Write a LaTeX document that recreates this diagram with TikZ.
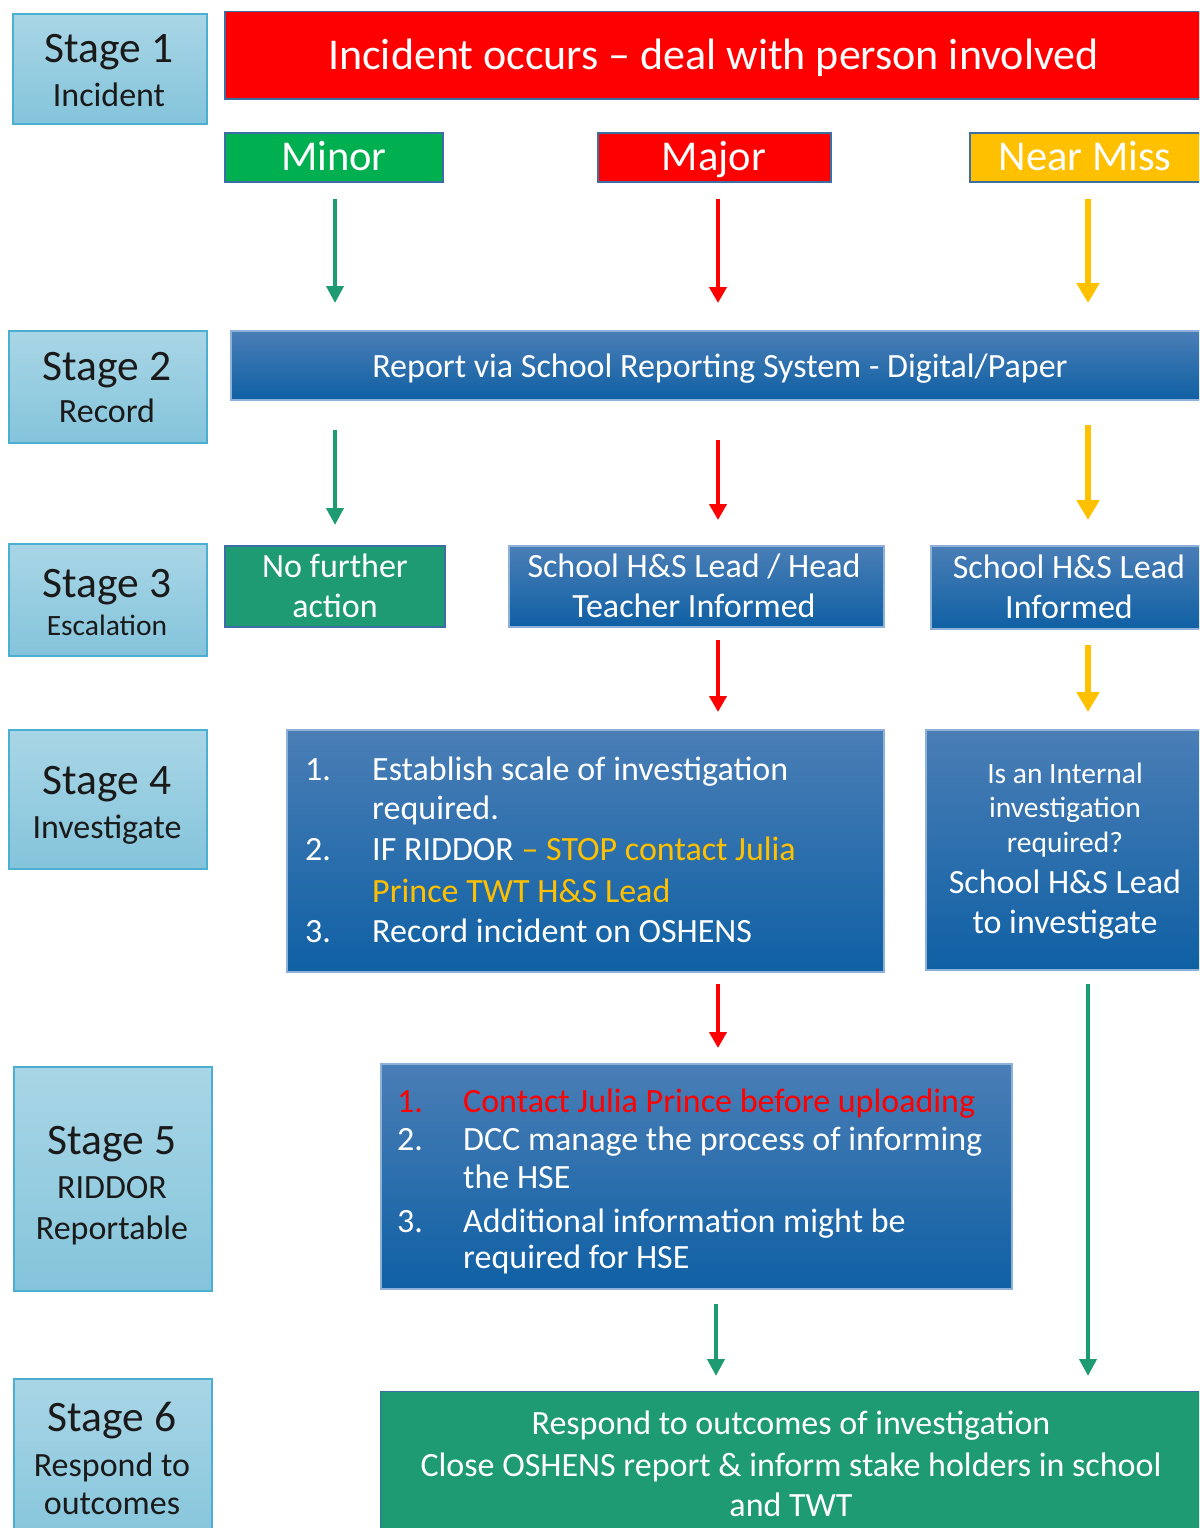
\documentclass[tikz,border=0pt]{standalone}
\usepackage{fontspec}
\setmainfont{Carlito}
\usetikzlibrary{arrows.meta}
\definecolor{stgTop}{HTML}{A9D6E6}
\definecolor{stgBot}{HTML}{84C4DB}
\definecolor{stgLine}{HTML}{4AAFD0}
\definecolor{bluTop}{HTML}{4A7EB6}
\definecolor{bluBot}{HTML}{0F60A4}
\definecolor{bluLine}{HTML}{8DB1D8}
\definecolor{edgeBlue}{HTML}{3A6EA5}
\definecolor{tealG}{HTML}{1F9B74}
\definecolor{brightG}{HTML}{00B050}
\definecolor{amber}{HTML}{FFC000}
\definecolor{stgText}{HTML}{1A1A1A}
\newcommand\szTitle{\fontsize{43.5}{50}\selectfont}
\newcommand\szHead{\fontsize{42.5}{48}\selectfont}
\newcommand\szBody{\fontsize{34}{40}\selectfont}
\newcommand\szSmall{\fontsize{29.5}{34}\selectfont}
\begin{document}
\begin{tikzpicture}[x=1pt,y=-1pt,
  stagebox/.style={draw=stgLine, line width=2pt, top color=stgTop, bottom color=stgBot, anchor=north west, inner sep=0pt},
  bluebox/.style={draw=bluLine, line width=1.5pt, top color=bluTop, bottom color=bluBot, anchor=north west, inner sep=0pt},
  flatbox/.style={draw=edgeBlue, line width=1.5pt, anchor=north west, inner sep=0pt},
  wtxt/.style={anchor=base, inner sep=0pt, text=white},
  wltxt/.style={anchor=base west, inner sep=0pt, text=white, font=\szBody},
  stgtxt/.style={anchor=base, inner sep=0pt, text=stgText},
  garrow/.style={draw=tealG, line width=4pt, -{Triangle[width=17pt,length=17pt]}},
  rarrow/.style={draw=red, line width=4pt, -{Triangle[width=17pt,length=16pt]}},
  aarrow/.style={draw=amber, line width=5.5pt, -{Triangle[width=22pt,length=20pt]}}
]
\useasboundingbox (0,0) rectangle (1199,1528);
\clip (0,0) rectangle (1199,1528);

% columns for arrows
\coordinate (cG) at (335,0);
\coordinate (cR) at (718,0);
\coordinate (cA) at (1088,0);
\coordinate (cG2) at (716,0);

% ---------- stage boxes ----------
\node[stagebox, minimum width=194pt, minimum height=110pt] (s1) at (12,13) {};
\node[stagebox, minimum width=198pt, minimum height=112pt] (s2) at (8,330) {};
\node[stagebox, minimum width=198pt, minimum height=112pt] (s3) at (8,543) {};
\node[stagebox, minimum width=198pt, minimum height=139pt] (s4) at (8,729) {};
\node[stagebox, minimum width=198pt, minimum height=224pt] (s5) at (13,1066) {};
\node[stagebox, minimum width=198pt, minimum height=170pt] (s6) at (13,1378) {};

\node[stgtxt, font=\szTitle] (s1a) at (109,63) {Stage 1};
\node[stgtxt, font=\szBody] (s1b) at (109,106) {Incident};
\node[stgtxt, font=\szTitle] (s2a) at (107,380) {Stage 2};
\node[stgtxt, font=\szBody] (s2b) at (107,422) {Record};
\node[stgtxt, font=\szTitle] (s3a) at (107,597) {Stage 3};
\node[stgtxt, font=\szSmall] (s3b) at (107,635) {Escalation};
\node[stgtxt, font=\szTitle] (s4a) at (107,794) {Stage 4};
\node[stgtxt, font=\szBody] (s4b) at (107,838) {Investigate};
\node[stgtxt, font=\szTitle] (s5a) at (112,1154) {Stage 5};
\node[stgtxt, font=\szBody] (s5b) at (112,1198) {RIDDOR};
\node[stgtxt, font=\szBody] (s5c) at (112,1239) {Reportable};
\node[stgtxt, font=\szTitle] (s6a) at (112,1431) {Stage 6};
\node[stgtxt, font=\szBody] (s6b) at (112,1476) {Respond to};
\node[stgtxt, font=\szBody] (s6c) at (112,1514) {outcomes};

% ---------- stage 1 ----------
\node[flatbox, fill=red, minimum width=990pt, minimum height=87pt] (inc) at (224,11) {};
\node[wtxt, font=\fontsize{44}{50}\selectfont] (inct) at (713.5,70) {Incident occurs \textendash\ deal with person involved};

\node[flatbox, fill=brightG, minimum width=218pt, minimum height=49pt] (minor) at (224,132) {};
\node[flatbox, fill=red, minimum width=233pt, minimum height=49pt] (major) at (597,132) {};
\node[flatbox, fill=amber, minimum width=240pt, minimum height=49pt] (near) at (969,132) {};
\node[wtxt, font=\szHead] (minort) at (334,170) {Minor};
\node[wtxt, font=\szHead] (majort) at (714,170) {Major};
\node[wtxt, font=\szHead] (neart) at (1085,170) {Near Miss};

% ---------- stage 2 ----------
\node[bluebox, minimum width=980pt, minimum height=69pt] (report) at (230,330) {};
\node[wtxt, font=\szBody] (reportt) at (720,377) {Report via School Reporting System - Digital/Paper};

% ---------- stage 3 ----------
\node[flatbox, fill=tealG, minimum width=220pt, minimum height=81pt] (nfa) at (224,545) {};
\node[wtxt, font=\szBody] (nfa1) at (335,577) {No further};
\node[wtxt, font=\szBody] (nfa2) at (335,617) {action};

\node[bluebox, minimum width=375pt, minimum height=81pt] (hsl) at (508,545) {};
\node[wtxt, font=\szBody] (hsl1) at (694,577) {School H\&S Lead / Head};
\node[wtxt, font=\szBody] (hsl2t) at (694,617) {Teacher Informed};

\node[bluebox, minimum width=280pt, minimum height=83pt] (hslb) at (930,545) {};
\node[wtxt, font=\szBody] (hslb1) at (1069,578) {School H\&S Lead};
\node[wtxt, font=\szBody] (hslb2) at (1069,618) {Informed};

% ---------- stage 4 ----------
\node[bluebox, minimum width=597pt, minimum height=242pt] (inv) at (286,729) {};
\node[wltxt] (i1n) at (305,780) {1.};
\node[wltxt] (i1a) at (372,780) {Establish scale of investigation};
\node[wltxt] (i1b) at (372,819) {required.};
\node[wltxt] (i2n) at (305,860) {2.};
\node[wltxt] (i2a) at (372,860) {IF RIDDOR \textcolor{amber}{\textendash\ STOP contact Julia}};
\node[wltxt, text=amber] (i2b) at (372,902) {Prince TWT H\&S Lead};
\node[wltxt] (i3n) at (305,942) {3.};
\node[wltxt] (i3a) at (372,942) {Record incident on OSHENS};

\node[bluebox, minimum width=285pt, minimum height=240pt] (nm) at (925,729) {};
\node[wtxt, font=\szSmall] (nm1) at (1065,783) {Is an Internal};
\node[wtxt, font=\szSmall] (nm2) at (1065,817) {investigation};
\node[wtxt, font=\szSmall] (nm3) at (1065,852) {required?};
\node[wtxt, font=\szBody] (nm4) at (1065,893) {School H\&S Lead};
\node[wtxt, font=\szBody] (nm5) at (1065,933) {to investigate};

% ---------- stage 5 ----------
\node[bluebox, minimum width=631pt, minimum height=225pt] (rid) at (380,1063) {};
\node[wltxt, text=red] (r1n) at (397,1112) {1.};
\node[wltxt, text=red] (r1a) at (463,1112) {Contact Julia Prince before uploading};
\node[wltxt] (r2n) at (397,1150) {2.};
\node[wltxt] (r2a) at (463,1150) {DCC manage the process of informing};
\node[wltxt] (r2b) at (463,1188) {the HSE};
\node[wltxt] (r3n) at (397,1232) {3.};
\node[wltxt] (r3a) at (463,1232) {Additional information might be};
\node[wltxt] (r3b) at (463,1268) {required for HSE};

% ---------- stage 6 ----------
\node[flatbox, draw=none, fill=tealG, minimum width=830pt, minimum height=150pt] (fin) at (380,1391) {};
\draw[edgeBlue, line width=1pt] (fin.north west) -- (fin.south west);
\draw[edgeBlue, line width=1pt] (fin.north west) -- (fin.north east);
\node[wtxt, font=\szBody] (fin1) at (791,1434) {Respond to outcomes of investigation};
\node[wtxt, font=\szBody] (fin2) at (791,1476) {Close OSHENS report \& inform stake holders in school};
\node[wtxt, font=\szBody] (fin3) at (791,1516) {and TWT};

% ---------- arrows ----------
\draw[garrow, shorten <=16pt, shorten >=27pt] (minor.south -| cG) -- (report.north -| cG);
\draw[rarrow, shorten <=16pt, shorten >=27pt] (major.south -| cR) -- (report.north -| cR);
\draw[aarrow, shorten <=16pt, shorten >=27pt] (near.south -| cA) -- (report.north -| cA);

\draw[garrow, shorten <=29pt, shorten >=20pt] (report.south -| cG) -- (nfa.north -| cG);
\draw[rarrow, shorten <=39pt, shorten >=25pt] (report.south -| cR) -- (hsl.north -| cR);
\draw[aarrow, shorten <=24pt, shorten >=25pt] (report.south -| cA) -- (hslb.north -| cA);

\draw[rarrow, shorten <=12pt, shorten >=17pt] (hsl.south -| cR) -- (inv.north -| cR);
\draw[aarrow, shorten <=15pt, shorten >=17pt] (hslb.south -| cA) -- (nm.north -| cA);

\draw[rarrow, shorten <=11pt, shorten >=15pt] (inv.south -| cR) -- (rid.north -| cR);
\draw[garrow, shorten <=13pt, shorten >=15pt] (nm.south -| cA) -- (fin.north -| cA);
\draw[garrow, shorten <=14pt, shorten >=15pt] (rid.south -| cG2) -- (fin.north -| cG2);
\end{tikzpicture}
\end{document}
